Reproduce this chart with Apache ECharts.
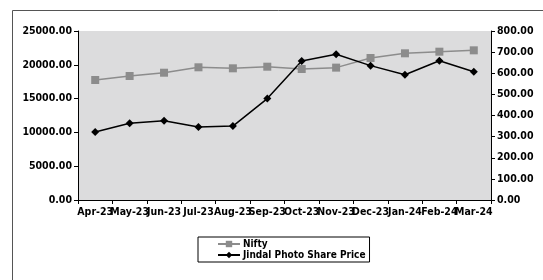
<!DOCTYPE html>
<html>
<head>
<meta charset="utf-8">
<script src="https://cdn.jsdelivr.net/npm/echarts@6/dist/echarts.min.js"></script>
<style>
  html, body { margin: 0; padding: 0; background: #fff; }
  #chart { width: 543px; height: 280px; }
</style>
</head>
<body>
<div id="chart"></div>
<script>
  // months on the x axis
  var months = ['Apr-23', 'May-23', 'Jun-23', 'Jul-23', 'Aug-23', 'Sep-23',
                'Oct-23', 'Nov-23', 'Dec-23', 'Jan-24', 'Feb-24', 'Mar-24'];
  // Nifty, left axis
  var nifty = [17750, 18340, 18830, 19630, 19480, 19720,
               19380, 19580, 21010, 21700, 21940, 22140];
  // Jindal Photo share price, right axis
  var jindal = [322, 363, 375, 346, 350, 480,
                658, 690, 636, 593, 659, 607];

  var font = '"DejaVu Sans Condensed", "DejaVu Sans", sans-serif';

  var chart = echarts.init(document.getElementById('chart'));
  var option = {
    animation: false,
    textStyle: { fontFamily: font },
    graphic: [{
      type: 'rect',
      shape: { x: 12.5, y: 10.5, width: 540, height: 280 },
      style: { fill: 'none', stroke: '#555', lineWidth: 1 }
    }],
    grid: {
      left: 78, top: 31, right: 52, bottom: 80,
      show: true,
      backgroundColor: '#dcdcdd',
      borderWidth: 0
    },
    legend: {
      orient: 'vertical',
      left: 198, top: 237,
      padding: [2, 4, 2, 19],
      itemGap: 1,
      itemWidth: 22,
      itemHeight: 8,
      borderColor: '#000',
      borderWidth: 1,
      borderRadius: 0,
      textStyle: { fontFamily: font, fontWeight: 'bold', fontSize: 10, color: '#000', padding: [0, 0, 0, -2] },
      data: ['Nifty', 'Jindal Photo Share Price']
    },
    xAxis: {
      type: 'category',
      data: months,
      boundaryGap: true,
      axisLine: { lineStyle: { color: '#000', width: 1 } },
      axisTick: { show: true, length: 4, lineStyle: { color: '#000' } },
      axisLabel: { color: '#000', fontFamily: font, fontWeight: 'bold', fontSize: 10.5, margin: 7, interval: 0 },
      splitLine: { show: false }
    },
    yAxis: [{
      type: 'value',
      min: 0, max: 25000, interval: 5000,
      position: 'left',
      axisLine: { show: true, lineStyle: { color: '#000' } },
      axisTick: { show: true, length: 4, lineStyle: { color: '#000' } },
      axisLabel: {
        color: '#000', fontFamily: font, fontWeight: 'bold', fontSize: 10.5, margin: 6,
        formatter: function (v) { return v.toFixed(2); }
      },
      splitLine: { show: false }
    }, {
      type: 'value',
      min: 0, max: 800, interval: 100,
      position: 'right',
      axisLine: { show: true, lineStyle: { color: '#000' } },
      axisTick: { show: true, length: 4, lineStyle: { color: '#000' } },
      axisLabel: {
        color: '#000', fontFamily: font, fontWeight: 'bold', fontSize: 10.5, margin: 6,
        formatter: function (v) { return v.toFixed(2); }
      },
      splitLine: { show: false }
    }],
    series: [{
      name: 'Nifty',
      type: 'line',
      yAxisIndex: 0,
      data: nifty,
      symbol: 'rect',
      symbolSize: 8,
      lineStyle: { color: '#8c8c8c', width: 1.5 },
      itemStyle: { color: '#8c8c8c' }
    }, {
      name: 'Jindal Photo Share Price',
      type: 'line',
      yAxisIndex: 1,
      data: jindal,
      symbol: 'diamond',
      symbolSize: 8,
      lineStyle: { color: '#000', width: 1.5 },
      itemStyle: { color: '#000' }
    }]
  };
  chart.setOption(option);
</script>
</body>
</html>
